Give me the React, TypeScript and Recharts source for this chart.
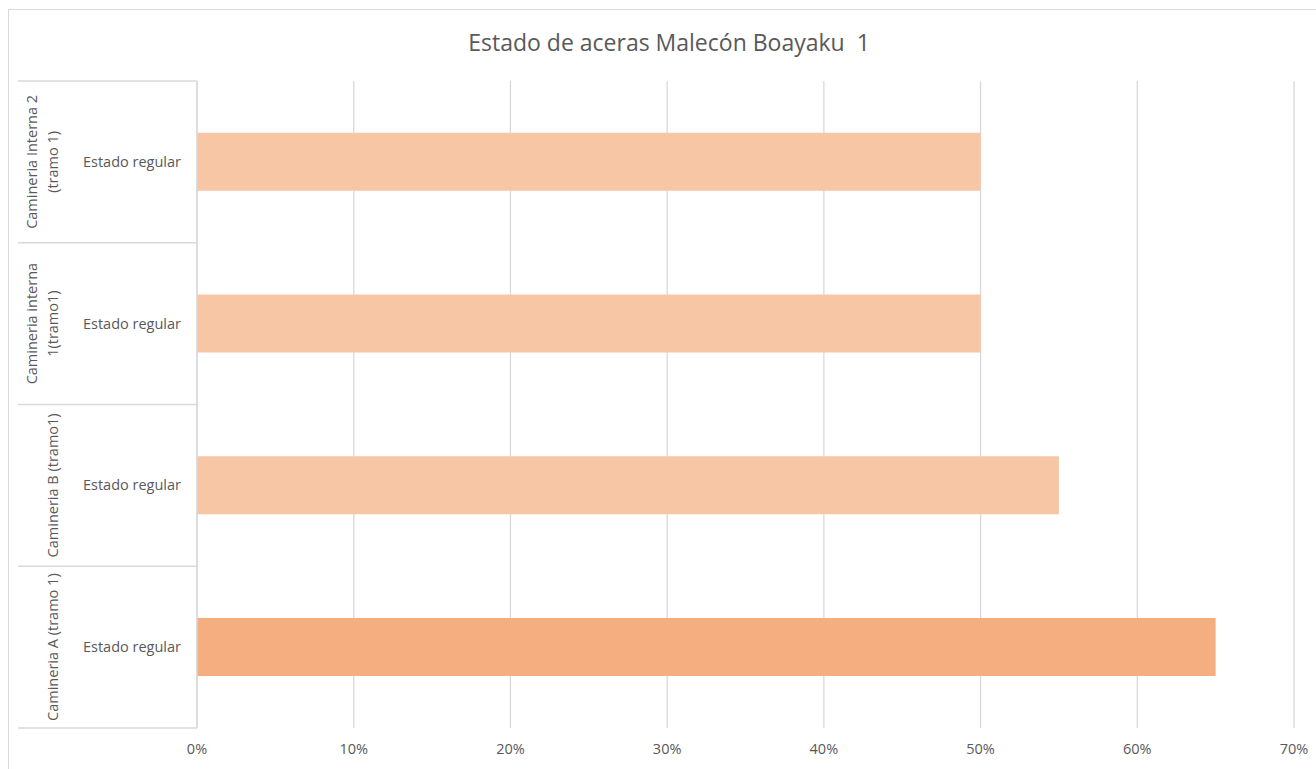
import { BarChart, Bar, XAxis, YAxis, CartesianGrid, Cell } from 'recharts';

const groups = ['Camineria Interna 2 (tramo 1)', 'Camineria interna 1(tramo1)', 'Camineria B (tramo1)', 'Camineria A (tramo 1)'];
const groupLines = [['Camineria Interna 2', '(tramo 1)'], ['Camineria interna', '1(tramo1)'], ['Camineria B (tramo1)'], ['Camineria A (tramo 1)']];
const states = ['Estado regular', 'Estado regular', 'Estado regular', 'Estado regular'];
const values = [0.5, 0.5, 0.55, 0.65];
const barColors = ['#F7C6A5', '#F7C6A5', '#F7C6A5', '#F4AE7F'];
const xTicks = [0, 0.1, 0.2, 0.3, 0.4, 0.5, 0.6, 0.7];

const data = groups.map((g, i) => ({ key: i, group: g, state: states[i], value: values[i] }));

const W = 1316;
const H = 769;
const X_H = 30;
const M = { top: 81, right: 22, bottom: 41 - X_H, left: 18 };
const Y_W = 179;
const AXIS_X = M.left + Y_W;
const BAND = (H - M.top - M.bottom - X_H) / groups.length;
const FONT = '"Open Sans", "Liberation Sans", sans-serif';
const TXT = '#595959';
const LINE = '#D9D9D9';

function CatTick(props: any) {
  const { y, payload } = props;
  const i = payload.value as number;
  const lines = groupLines[i];
  const top = y - BAND / 2;
  const bottom = y + BAND / 2;
  return (
    <g>
      <line x1={M.left} x2={AXIS_X} y1={top} y2={top} stroke={LINE} strokeWidth={1.3} />
      {i === groups.length - 1 && (
        <line x1={M.left} x2={AXIS_X} y1={bottom} y2={bottom} stroke={LINE} strokeWidth={1.3} />
      )}
      <text x={AXIS_X - 16} y={y} dy={5} textAnchor="end" fill={TXT} fontSize={14.5} fontFamily={FONT}>
        {data[i].state}
      </text>
      {lines.map((ln, k) => {
        const lx = 53 - (lines.length - 1 - k) * 21;
        return (
          <text key={k} x={lx} y={y} textAnchor="middle" fill={TXT} fontSize={14.5} fontFamily={FONT}
            transform={`rotate(-90 ${lx} ${y})`} dy={5}>
            {ln}
          </text>
        );
      })}
    </g>
  );
}

export default function App() {
  return (
    <div style={{ position: 'absolute', left: 0, top: 0, width: W, height: H, background: '#fff' }}>
      <svg width={W} height={H} style={{ position: 'absolute', left: 0, top: 0 }}>
        <rect x={8.5} y={9.5} width={W + 20} height={H + 20} fill="#fff" stroke={LINE} strokeWidth={1} />
        <text x={669} y={51} textAnchor="middle" fill={TXT} fontSize={23} fontFamily={FONT} style={{ whiteSpace: 'pre' }}>
          Estado de aceras Malecón Boayaku  1
        </text>
      </svg>
      <div style={{ position: 'absolute', left: 0, top: 0 }}>
        <BarChart width={W} height={H} data={data} layout="vertical" margin={M} barCategoryGap="32%">
          <CartesianGrid horizontal={false} stroke={LINE} strokeWidth={1.3} />
          <XAxis
            type="number"
            domain={[0, 0.7]}
            ticks={xTicks}
            height={X_H}
            axisLine={false}
            tickLine={false}
            tickFormatter={(v: number) => `${Math.round(v * 100)}%`}
            tick={{ fill: TXT, fontSize: 14.5, fontFamily: FONT }}
            tickMargin={10}
            interval={0}
          />
          <YAxis
            type="category"
            dataKey="key"
            width={Y_W}
            axisLine={{ stroke: LINE, strokeWidth: 1.3 }}
            tickLine={false}
            tick={<CatTick />}
            interval={0}
          />
          <Bar dataKey="value" isAnimationActive={false}>
            {data.map((d, i) => (
              <Cell key={d.key} fill={barColors[i]} />
            ))}
          </Bar>
        </BarChart>
      </div>
    </div>
  );
}
